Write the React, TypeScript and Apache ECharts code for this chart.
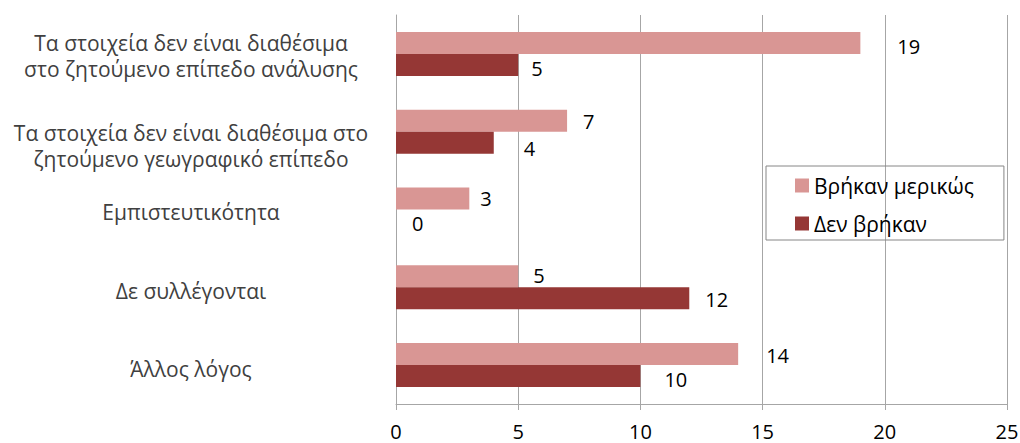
import React, { useEffect, useRef } from "react";
import * as echarts from "echarts";

const categories = [
  "Τα στοιχεία δεν είναι διαθέσιμα\nστο ζητούμενο επίπεδο ανάλυσης",
  "Τα στοιχεία δεν είναι διαθέσιμα στο\nζητούμενο γεωγραφικό επίπεδο",
  "Εμπιστευτικότητα",
  "Δε συλλέγονται",
  "Άλλος λόγος",
];
const seriesNames = ["Βρήκαν μερικώς", "Δεν βρήκαν"];
const partlyFound = [19, 7, 3, 5, 14];
const notFound = [5, 4, 0, 12, 10];
const xMin = 0;
const xMax = 25;
const xInterval = 5;

// presentation-only nudges (px) mimicking the reference's hand-placed labels
const partlyLabelShift = [[37, 4], [16, 1], [11, 0], [15, -1], [28, 1]];
const notFoundLabelShift = [[13, 4], [30, 6], [16, 3], [16, 1], [24, 3]];
// extra spacer height above each category label (shifts it down by half)
const categoryLabelSpacer = [4, 28, 4, 8, 8];

const FONT = "'Open Sans', 'Noto Sans', sans-serif";
const GRID_COLOR = "#A6A6A6";

export default function App() {
  const ref = useRef<HTMLDivElement>(null);
  useEffect(() => {
    if (!ref.current) return;
    const chart = echarts.init(ref.current, undefined, { renderer: "svg" });
    const mkData = (vals: number[], shifts: number[][]) =>
      vals.map((v, i) => ({ value: v, label: { offset: shifts[i] } }));
    const rich: Record<string, any> = {
      t: {
        fontFamily: FONT,
        fontSize: 21,
        lineHeight: 26,
        color: "#404040",
        align: "center",
      },
    };
    categoryLabelSpacer.forEach((h, i) => {
      rich["g" + i] = { fontSize: 1, lineHeight: h, height: h, align: "center" };
    });
    chart.setOption({
      animation: false,
      backgroundColor: "#ffffff",
      textStyle: { fontFamily: FONT },
      grid: {
        left: 396,
        right: 13,
        top: 15,
        bottom: 39,
        containLabel: false,
        outerBoundsMode: "none",
      },
      legend: {
        orient: "vertical",
        left: 766,
        top: 166,
        data: seriesNames,
        icon: "rect",
        itemWidth: 14,
        itemHeight: 14,
        itemGap: 17,
        padding: [9, 30, 6, 29],
        borderColor: "#868686",
        borderWidth: 1,
        textStyle: { fontFamily: FONT, fontSize: 21, color: "#000" },
      },
      xAxis: {
        type: "value",
        min: xMin,
        max: xMax,
        interval: xInterval,
        axisLine: { show: true, lineStyle: { color: GRID_COLOR, width: 1 } },
        axisTick: { show: true, length: 6, lineStyle: { color: GRID_COLOR } },
        splitLine: { show: true, lineStyle: { color: GRID_COLOR, width: 1 } },
        axisLabel: { margin: 17, fontFamily: FONT, fontSize: 20, color: "#000" },
      },
      yAxis: {
        type: "category",
        inverse: true,
        data: categories,
        axisLine: { show: true, lineStyle: { color: GRID_COLOR, width: 1 } },
        axisTick: { show: false },
        axisLabel: {
          margin: 205,
          align: "center",
          fontFamily: FONT,
          fontSize: 21,
          lineHeight: 26,
          color: "#404040",
          formatter: (value: string, index: number) =>
            `{g${index}| }\n` +
            value
              .split("\n")
              .map((l) => `{t|${l}}`)
              .join("\n"),
          rich,
        },
      },
      series: [
        {
          name: seriesNames[0],
          type: "bar",
          data: mkData(partlyFound, partlyLabelShift),
          barWidth: 22,
          barGap: "0%",
          itemStyle: { color: "#D99694" },
          label: {
            show: true,
            position: "right",
            distance: 0,
            fontFamily: FONT,
            fontSize: 20,
            color: "#000",
          },
        },
        {
          name: seriesNames[1],
          type: "bar",
          data: mkData(notFound, notFoundLabelShift),
          barWidth: 22,
          barGap: "0%",
          itemStyle: { color: "#953735" },
          label: {
            show: true,
            position: "right",
            distance: 0,
            fontFamily: FONT,
            fontSize: 20,
            color: "#000",
          },
        },
      ],
    });
    return () => chart.dispose();
  }, []);
  return (
    <div
      ref={ref}
      style={{ position: "fixed", left: 0, top: 0, width: 1020, height: 443 }}
    />
  );
}
